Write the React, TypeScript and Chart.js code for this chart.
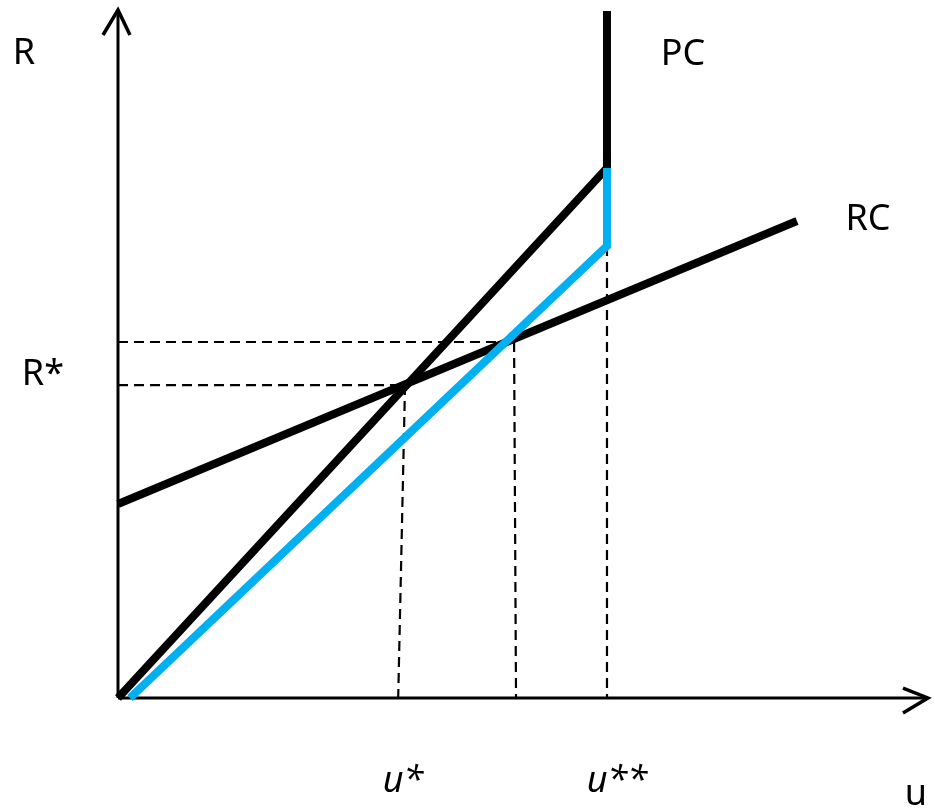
import React, { useEffect, useRef } from "react";
import { Chart, registerables } from "chart.js";

Chart.register(...registerables);

// Scale limits (u on x, R on y)
const X_MIN = -2.413;
const X_MAX = 16.708;
const Y_MIN = -2.311;
const Y_MAX = 14.274;

// Key values
const U_STAR_TOP = 5.87;
const U_STAR_BOTTOM = 5.73;
const U_MID_TOP = 8.1;
const U_MID_BOTTOM = 8.14;
const U_STARSTAR = 10;
const R_STAR_LOW = 6.4;
const R_STAR_HIGH = 7.28;

// Curves
const pcX = [0, 10, 10];
const pcY = [0, 10.838, 14.049];
const blueX = [0.245, 10, 10];
const blueY = [0, 9.243, 10.838];
const rcX = [0, 13.885];
const rcY = [3.967, 9.755];

// Axes
const yAxisX = [0, 0];
const yAxisY = [0, 14.07];
const yArrowX = [-0.307, 0, 0.245];
const yArrowY = [13.558, 14.07, 13.558];
const xAxisX = [0, 16.564];
const xAxisY = [0, 0];
const xArrowX = [16.053, 16.564, 16.053];
const xArrowY = [0.204, 0, -0.307];

// Labels
const labelTexts = ["R", "PC", "RC", "R*", "u*", "u**", "u"];
const labelX = [-1.922, 11.554, 15.337, -1.534, 5.828, 10.204, 16.319];
const labelY = [12.965, 12.945, 9.571, 6.401, -1.922, -1.922, -2.188];
const labelItalic = [false, false, false, false, true, true, false];

const pts = (xs: number[], ys: number[]) => xs.map((x, i) => ({ x, y: ys[i] }));

const labelPlugin = {
  id: "labels",
  afterDatasetsDraw(chart: any) {
    const { ctx, scales } = chart;
    ctx.save();
    ctx.fillStyle = "#000";
    ctx.textAlign = "center";
    ctx.textBaseline = "alphabetic";
    labelTexts.forEach((t, i) => {
      ctx.font = `${labelItalic[i] ? "italic " : ""}36px 'Noto Sans'`;
      ctx.fillText(t, scales.x.getPixelForValue(labelX[i]), scales.y.getPixelForValue(labelY[i]));
    });
    ctx.restore();
  },
};

export default function App() {
  const ref = useRef<HTMLCanvasElement | null>(null);
  useEffect(() => {
    if (!ref.current) return;
    const black = "#000000";
    const blue = "#00B0F0";
    const solid = (data: any[], color: string, width: number, order: number) => ({
      data,
      borderColor: color,
      borderWidth: width,
      showLine: true,
      pointRadius: 0,
      fill: false,
      order,
    });
    const dashed = (data: any[]) => ({
      ...solid(data, black, 2.2, 5),
      borderDash: [10, 6],
    });
    const chart = new Chart(ref.current, {
      type: "scatter",
      data: {
        datasets: [
          solid(pts(blueX, blueY), blue, 8, 1),
          solid(pts(pcX, pcY), black, 8, 2),
          solid(pts(rcX, rcY), black, 8, 3),
          dashed([{ x: 0, y: R_STAR_HIGH }, { x: U_MID_TOP, y: R_STAR_HIGH }]),
          dashed([{ x: U_MID_TOP, y: R_STAR_HIGH }, { x: U_MID_BOTTOM, y: 0 }]),
          dashed([{ x: 0, y: R_STAR_LOW }, { x: U_STAR_TOP, y: R_STAR_LOW }]),
          dashed([{ x: U_STAR_TOP, y: R_STAR_LOW }, { x: U_STAR_BOTTOM, y: 0 }]),
          dashed([{ x: U_STARSTAR, y: blueY[1] }, { x: U_STARSTAR, y: 0 }]),
          solid(pts(yAxisX, yAxisY), black, 3, 6),
          solid(pts(yArrowX, yArrowY), black, 3.5, 6),
          solid(pts(xAxisX, xAxisY), black, 3, 6),
          solid(pts(xArrowX, xArrowY), black, 3.5, 6),
        ] as any,
      },
      options: {
        animation: false,
        responsive: false,
        maintainAspectRatio: false,
        layout: { padding: 0 },
        scales: {
          x: { type: "linear", min: X_MIN, max: X_MAX, display: false },
          y: { type: "linear", min: Y_MIN, max: Y_MAX, display: false },
        },
        plugins: { legend: { display: false }, tooltip: { enabled: false } },
        elements: { line: { tension: 0, borderCapStyle: "butt", borderJoinStyle: "miter" } },
      } as any,
      plugins: [labelPlugin],
    });
    return () => chart.destroy();
  }, []);
  return (
    <div style={{ position: "absolute", left: 0, top: 0, width: 935, height: 811, background: "#fff" }}>
      <canvas ref={ref} width={935} height={811} style={{ width: 935, height: 811 }} />
    </div>
  );
}
